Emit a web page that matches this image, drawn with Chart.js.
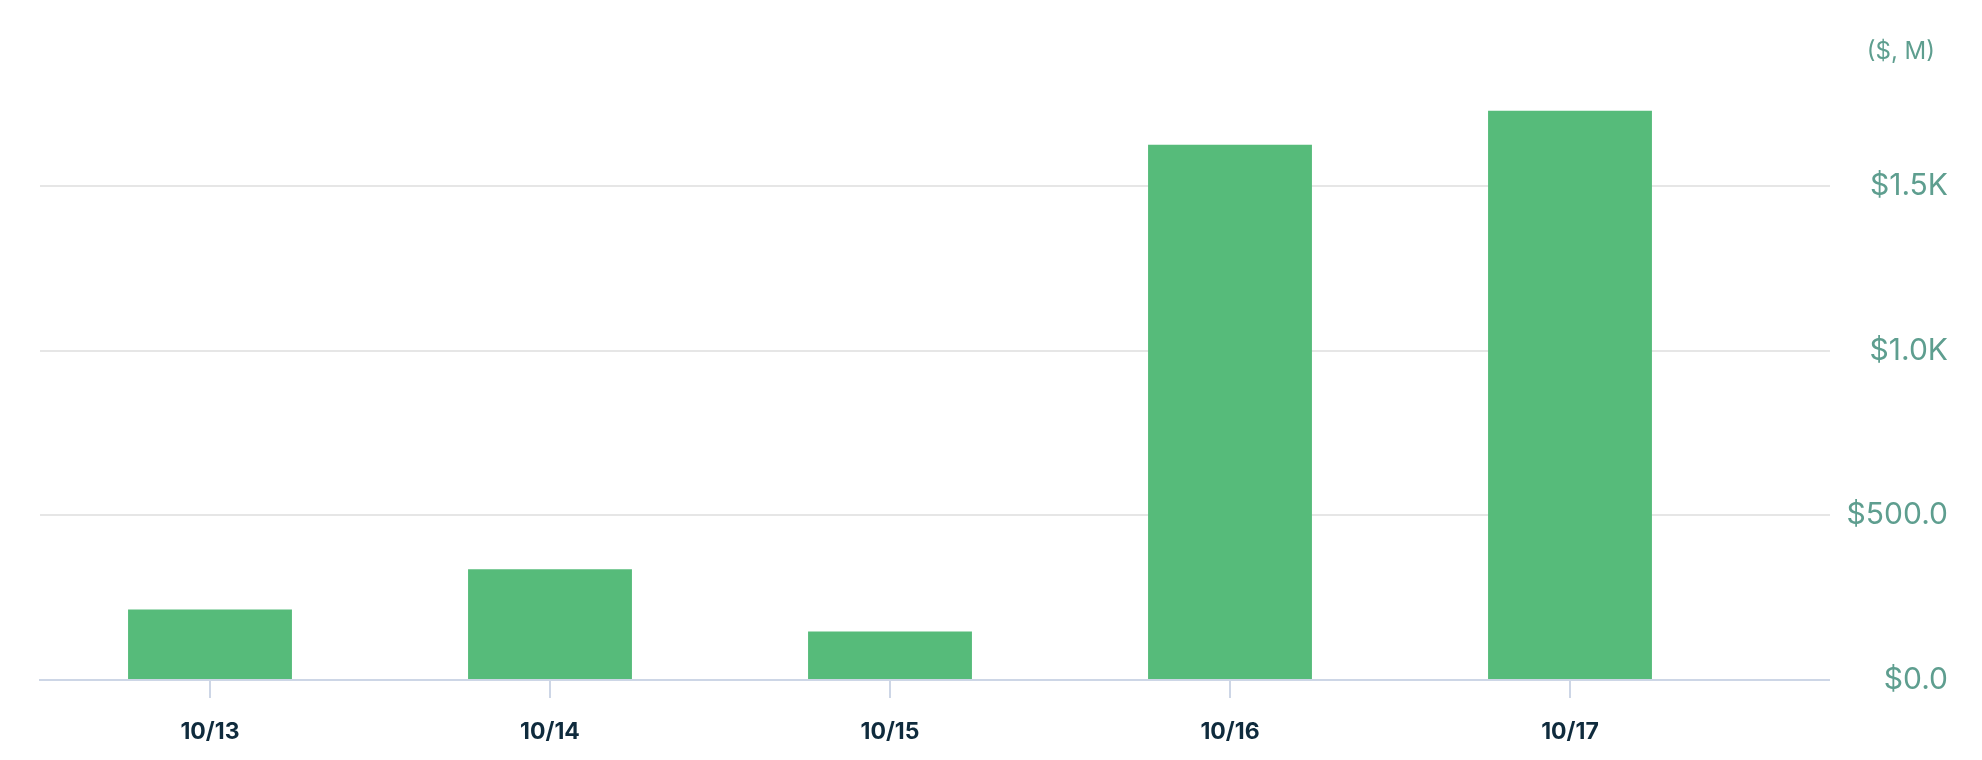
<!DOCTYPE html>
<html>
<head>
<meta charset="utf-8">
<script src="https://cdn.jsdelivr.net/npm/chart.js@4"></script>
<style>
    html, body { margin: 0; padding: 0; background: #ffffff; }
    .chart-box { width: 1982px; height: 760px; position: relative; }
</style>
</head>
<body>
<div class="chart-box"><canvas id="volumeChart"></canvas></div>
<script>
// Chart data
const dates = ['10/13', '10/14', '10/15', '10/16', '10/17'];
const volumes = [214, 336, 147, 1625, 1728];
const yTicks = [0, 500, 1000, 1500];
const unitLabel = '($, M)';

const GREEN = '#56bb7a';
const TEAL = '#5e9e8f';
const NAVY = '#0f2b3d';
const AXIS_BLUE = '#cdd6e6';
const GRID_GREY = '#e6e6e6';

// Small unit caption above the right axis
const unitCaption = {
    id: 'unitCaption',
    afterDraw(chart) {
        const yScale = chart.scales.y;
        const c = chart.ctx;
        c.save();
        c.font = '24px Inter, "Noto Sans", sans-serif';
        c.fillStyle = TEAL;
        c.textAlign = 'right';
        c.textBaseline = 'middle';
        c.fillText(unitLabel, yScale.right - 13, 52);
        c.restore();
    }
};

const ctx = document.getElementById('volumeChart').getContext('2d');

new Chart(ctx, {
    type: 'bar',
    data: {
        labels: dates,
        datasets: [{
            data: volumes,
            backgroundColor: GREEN,
            borderWidth: 0,
            barPercentage: 0.482,
            categoryPercentage: 1.0
        }]
    },
    options: {
        responsive: true,
        maintainAspectRatio: false,
        animation: false,
        layout: {
            padding: { left: 40, right: 34, top: 87, bottom: 0 }
        },
        plugins: {
            legend: { display: false },
            tooltip: { enabled: false }
        },
        scales: {
            x: {
                offset: true,
                border: { display: true, color: AXIS_BLUE, width: 2 },
                grid: {
                    offset: false,
                    drawOnChartArea: false,
                    drawTicks: true,
                    tickLength: 18,
                    color: AXIS_BLUE,
                    lineWidth: 2
                },
                ticks: {
                    color: NAVY,
                    padding: 20,
                    maxRotation: 0,
                    font: { family: 'Inter, "Noto Sans", sans-serif', size: 23, weight: '700' }
                },
                afterFit(scale) {
                    scale.height = 80;
                }
            },
            y: {
                position: 'right',
                min: 0,
                max: 1800,
                border: { display: false },
                grid: {
                    drawTicks: true,
                    tickLength: 90,
                    lineWidth: 2,
                    color: (c) => (c.tick && c.tick.value === 0 ? AXIS_BLUE : GRID_GREY)
                },
                afterBuildTicks(scale) {
                    scale.ticks = yTicks.map(v => ({ value: v }));
                },
                ticks: {
                    color: TEAL,
                    padding: 14,
                    crossAlign: 'far',
                    font: { family: 'Inter, "Noto Sans", sans-serif', size: 30 },
                    callback: function(value) {
                        if (value >= 1000) {
                            return '$' + (value / 1000).toFixed(1) + 'K';
                        }
                        return '$' + value.toFixed(1);
                    }
                },
                afterFit(scale) {
                    scale.width = 208;
                }
            }
        }
    },
    plugins: [unitCaption]
});
</script>
</body>
</html>
